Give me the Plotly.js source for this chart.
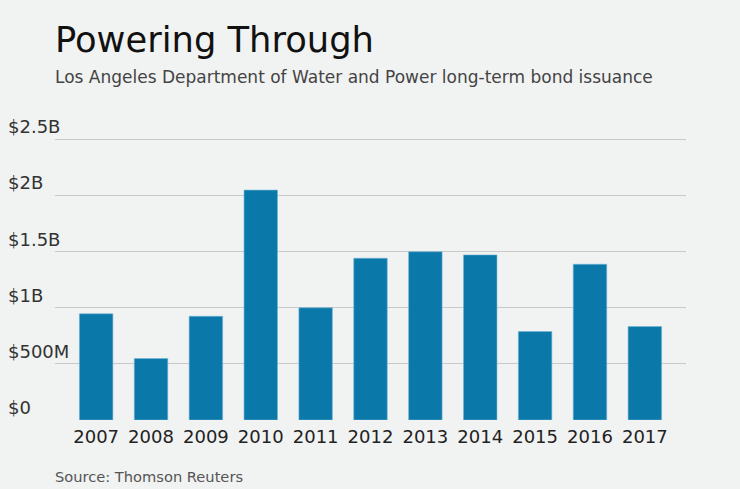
<!DOCTYPE html>
<html>
<head>
<meta charset="utf-8">
<script src="https://cdn.plot.ly/plotly-3.0.1.min.js"></script>
<style>
html,body{margin:0;padding:0;background:#f1f2f2;}
#chart{width:740px;height:489px;}
</style>
</head>
<body>
<div id="chart"></div>
<script>
const years = ["2007","2008","2009","2010","2011","2012","2013","2014","2015","2016","2017"];
const issuance = [0.947e9, 0.548e9, 0.925e9, 2.05e9, 1.0e9, 1.442e9, 1.5e9, 1.472e9, 0.789e9, 1.389e9, 0.833e9];
const yTickVals = [0, 0.5e9, 1e9, 1.5e9, 2e9, 2.5e9];
const yTickText = ["$0", "$500M", "$1B", "$1.5B", "$2B", "$2.5B"];
const titleText = "Powering Through";
const subtitleText = "Los Angeles Department of Water and Power long-term bond issuance";
const sourceText = "Source: Thomson Reuters";

const W = 740, H = 489;
const yMax = 2.8e9;
const pxPerB = 112.2;
const plotL = 55, plotR = 686, plotB = 420.5;
const plotT = plotB - pxPerB * yMax / 1e9;
const FONT = "DejaVu Sans, Verdana, sans-serif";
const yPaper = px => (plotB - px) / (plotB - plotT);

const trace = {
  type: "bar",
  x: years,
  y: issuance,
  marker: {color: "#0a78a8", line: {color: "#6fb6d6", width: 0.6}},
  hoverinfo: "x+y"
};

const layout = {
  width: W, height: H,
  paper_bgcolor: "#f1f2f2",
  plot_bgcolor: "#f1f2f2",
  margin: {l: 0, r: 0, t: plotT, b: H - plotB, pad: 0},
  showlegend: false,
  bargap: 0.39,
  font: {family: FONT, color: "#333"},
  title: {
    text: titleText,
    font: {family: FONT, size: 35.3, color: "#111"},
    xref: "container", x: 55 / W, xanchor: "left",
    yref: "container", y: 1 - 40 / H, yanchor: "middle",
    pad: {l: 0, r: 0, t: 0, b: 0}
  },
  xaxis: {
    type: "category",
    domain: [plotL / W, plotR / W],
    range: [-0.75, years.length - 0.25],
    showgrid: false,
    zeroline: false,
    showline: false,
    ticks: "",
    ticklabelstandoff: 4,
    tickfont: {family: FONT, size: 18, color: "#222"},
    fixedrange: true
  },
  yaxis: {
    anchor: "free",
    position: 0,
    range: [0, yMax],
    tickvals: yTickVals,
    ticktext: yTickText,
    ticklabelposition: "inside top",
    ticklabelstandoff: 4,
    showgrid: true,
    gridcolor: "#c9c9c9",
    gridwidth: 1,
    zeroline: false,
    showline: false,
    ticks: "",
    tickfont: {family: FONT, size: 18, color: "#333"},
    fixedrange: true
  },
  annotations: [
    {
      text: subtitleText, showarrow: false,
      xref: "paper", x: (plotL - 2) / W, xanchor: "left",
      yref: "paper", y: yPaper(77), yanchor: "middle",
      font: {family: FONT, size: 17, color: "#444"}
    },
    {
      text: sourceText, showarrow: false,
      xref: "paper", x: (plotL - 2) / W, xanchor: "left",
      yref: "paper", y: yPaper(477), yanchor: "middle",
      font: {family: FONT, size: 14.65, color: "#555"}
    }
  ]
};

Plotly.newPlot("chart", [trace], layout, {displayModeBar: false, staticPlot: true});
</script>
</body>
</html>
